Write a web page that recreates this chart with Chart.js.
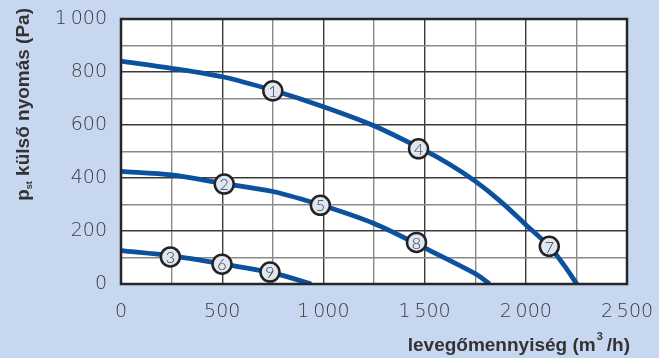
<!DOCTYPE html>
<html><head><meta charset="utf-8">
<script src="https://cdn.jsdelivr.net/npm/chart.js@4/dist/chart.umd.min.js"></script>
<style>html,body{margin:0;padding:0;background:#c6d7ef;}#wrap{width:659px;height:358px;position:relative;}</style>
</head><body><div id="wrap"><canvas id="c" width="659" height="358"></canvas></div>
<script>
// Curve 1-4-7
const curveAx = [0, 250, 500, 750, 1000, 1250, 1500, 1625, 1750, 1875, 2000, 2116, 2187, 2252];
const curveAy = [841, 814, 782, 731, 669, 597, 504, 451, 388, 312, 224, 142, 73, 0];
// Curve 2-5-8
const curveBx = [0, 250, 500, 750, 1000, 1250, 1500, 1750, 1822];
const curveBy = [425, 412, 380, 349, 295, 228, 136, 39, 0];
// Curve 3-6-9
const curveCx = [0, 250, 500, 750, 940];
const curveCy = [126, 106, 76, 42, 0];
// Numbered markers
const markerLabels = ['1','2','3','4','5','6','7','8','9'];
const markerX = [750, 510, 244, 1470, 985, 499, 2116, 1460, 736];
const markerY = [729, 377, 102, 510, 297, 75, 142, 157, 45];
// Axis ticks
const xTickLabels = [0, 500, 1000, 1500, 2000, 2500];
const yTickLabels = [0, 200, 400, 600, 800, 1000];
const xTitle = 'levegőmennyiség (m';
const xTitleSup = '3';
const xTitleEnd = '/h)';
const yTitleP = 'p';
const yTitleSub = 'st';
const yTitleRest = ' külső nyomás (Pa)';

const fmt = v => { const s = String(v); return s.length > 3 ? s.slice(0, s.length-3) + '\u2009' + s.slice(-3) : s; };
const pts = (xs, ys) => xs.map((x,i)=>({x, y: ys[i]}));
const curveColor = '#0c519e';
const tickFont = {family: '"DejaVu Sans", sans-serif', size: 19, weight: '200'};

const bgPlugin = {
  id: 'bg',
  beforeDraw(chart){
    const {ctx, chartArea:a} = chart;
    ctx.save(); ctx.fillStyle = '#c6d7ef'; ctx.fillRect(0,0,chart.width,chart.height);
    ctx.fillStyle = '#ffffff'; ctx.fillRect(a.left, a.top, a.right-a.left, a.bottom-a.top); ctx.restore();
  },
  afterDatasetsDraw(chart){
    const {ctx, chartArea:a} = chart;
    ctx.save();
    ctx.strokeStyle = '#262626'; ctx.lineWidth = 2.5;
    ctx.strokeRect(a.left, a.top, a.right-a.left, a.bottom-a.top);
    // markers on top
    const meta = chart.getDatasetMeta(3);
    meta.data.forEach((el)=>{
      ctx.beginPath(); ctx.arc(el.x, el.y, 9.5, 0, Math.PI*2);
      ctx.fillStyle = '#dfe6f4'; ctx.fill();
      ctx.lineWidth = 2.5; ctx.strokeStyle = '#232323'; ctx.stroke();
    });
    ctx.fillStyle = '#3a3a3a'; ctx.font = '300 16px Lato, "DejaVu Sans", sans-serif';
    ctx.textAlign = 'center'; ctx.textBaseline = 'middle';
    meta.data.forEach((el,i)=>{ ctx.fillText(markerLabels[i], el.x, el.y+1); });
    // x title
    ctx.fillStyle = '#333'; ctx.textBaseline = 'alphabetic';
    const bf = 'bold 19px "Liberation Sans", Arial, sans-serif';
    const sf = 'bold 11px "Liberation Sans", Arial, sans-serif';
    ctx.font = bf; const w1 = ctx.measureText(xTitle).width; const w3 = ctx.measureText(xTitleEnd).width;
    ctx.font = sf; const w2 = ctx.measureText(xTitleSup).width + 5;
    const right = a.right + 3, base = 351;
    let x0 = right - (w1 + w2 + w3);
    ctx.textAlign = 'left';
    ctx.font = bf; ctx.fillText(xTitle, x0, base);
    ctx.font = sf; ctx.fillText(xTitleSup, x0 + w1 + 1, base - 11);
    ctx.font = bf; ctx.fillText(xTitleEnd, x0 + w1 + w2, base);
    // y title rotated
    ctx.translate(29, 0); ctx.rotate(-Math.PI/2);
    const subf = 'bold 9px "Liberation Sans", Arial, sans-serif';
    ctx.font = bf; const p1 = ctx.measureText(yTitleP).width, p3 = ctx.measureText(yTitleRest).width;
    ctx.font = subf; const p2 = ctx.measureText(yTitleSub).width;
    const start = -8 - (p1+p2+p3);
    ctx.font = bf; ctx.fillText(yTitleP, start, 0);
    ctx.font = subf; ctx.fillText(yTitleSub, start + p1, 3);
    ctx.font = bf; ctx.fillText(yTitleRest, start + p1 + p2, 0);
    ctx.restore();
  }
};

const lineDs = (xs, ys) => ({
  type: 'scatter', data: pts(xs, ys), showLine: true, borderColor: curveColor, borderWidth: 4.8,
  pointRadius: 0, tension: 0.3, fill: false, borderCapStyle: 'butt'
});

new Chart(document.getElementById('c'), {
  type: 'scatter',
  data: { datasets: [
    lineDs(curveAx, curveAy), lineDs(curveBx, curveBy), lineDs(curveCx, curveCy),
    { type: 'scatter', data: pts(markerX, markerY), pointRadius: 0, pointHoverRadius: 0,
      backgroundColor: '#dfe6f4', borderColor: '#232323', borderWidth: 0 }
  ]},
  options: {
    responsive: false, animation: false, events: [],
    layout: { padding: { top: 19, right: 32, left: 0, bottom: 0 } },
    plugins: { legend: {display: false}, tooltip: {enabled: false} },
    scales: {
      x: { type: 'linear', min: 0, max: 2500,
        afterFit: s => { s.height = 74; s.paddingLeft = 0; s.paddingRight = 0; },
        afterBuildTicks: s => { s.ticks = []; for (let v=0; v<=2500; v+=250) s.ticks.push({value: v}); },
        ticks: { padding: 17, color: '#3a3a3a', font: tickFont, maxRotation: 0, autoSkip: false,
          callback: v => xTickLabels.includes(v) ? fmt(v) : '' },
        grid: { drawTicks: false, lineWidth: 1.4, color: c => (c.tick && c.tick.value % 500 === 0) ? '#3a3a3a' : '#8a8a8a' },
        border: { display: false } },
      y: { type: 'linear', min: 0, max: 1000,
        afterFit: s => { s.width = 121; s.paddingTop = 0; s.paddingBottom = 0; },
        afterBuildTicks: s => { s.ticks = []; for (let v=0; v<=1000; v+=100) s.ticks.push({value: v}); },
        ticks: { padding: 14, color: '#3a3a3a', font: tickFont, autoSkip: false,
          callback: v => yTickLabels.includes(v) ? fmt(v) : '' },
        grid: { drawTicks: false, lineWidth: 1.4, color: c => (c.tick && c.tick.value % 200 === 0) ? '#3a3a3a' : '#8a8a8a' },
        border: { display: false } }
    }
  },
  plugins: [bgPlugin]
});
</script></body></html>
